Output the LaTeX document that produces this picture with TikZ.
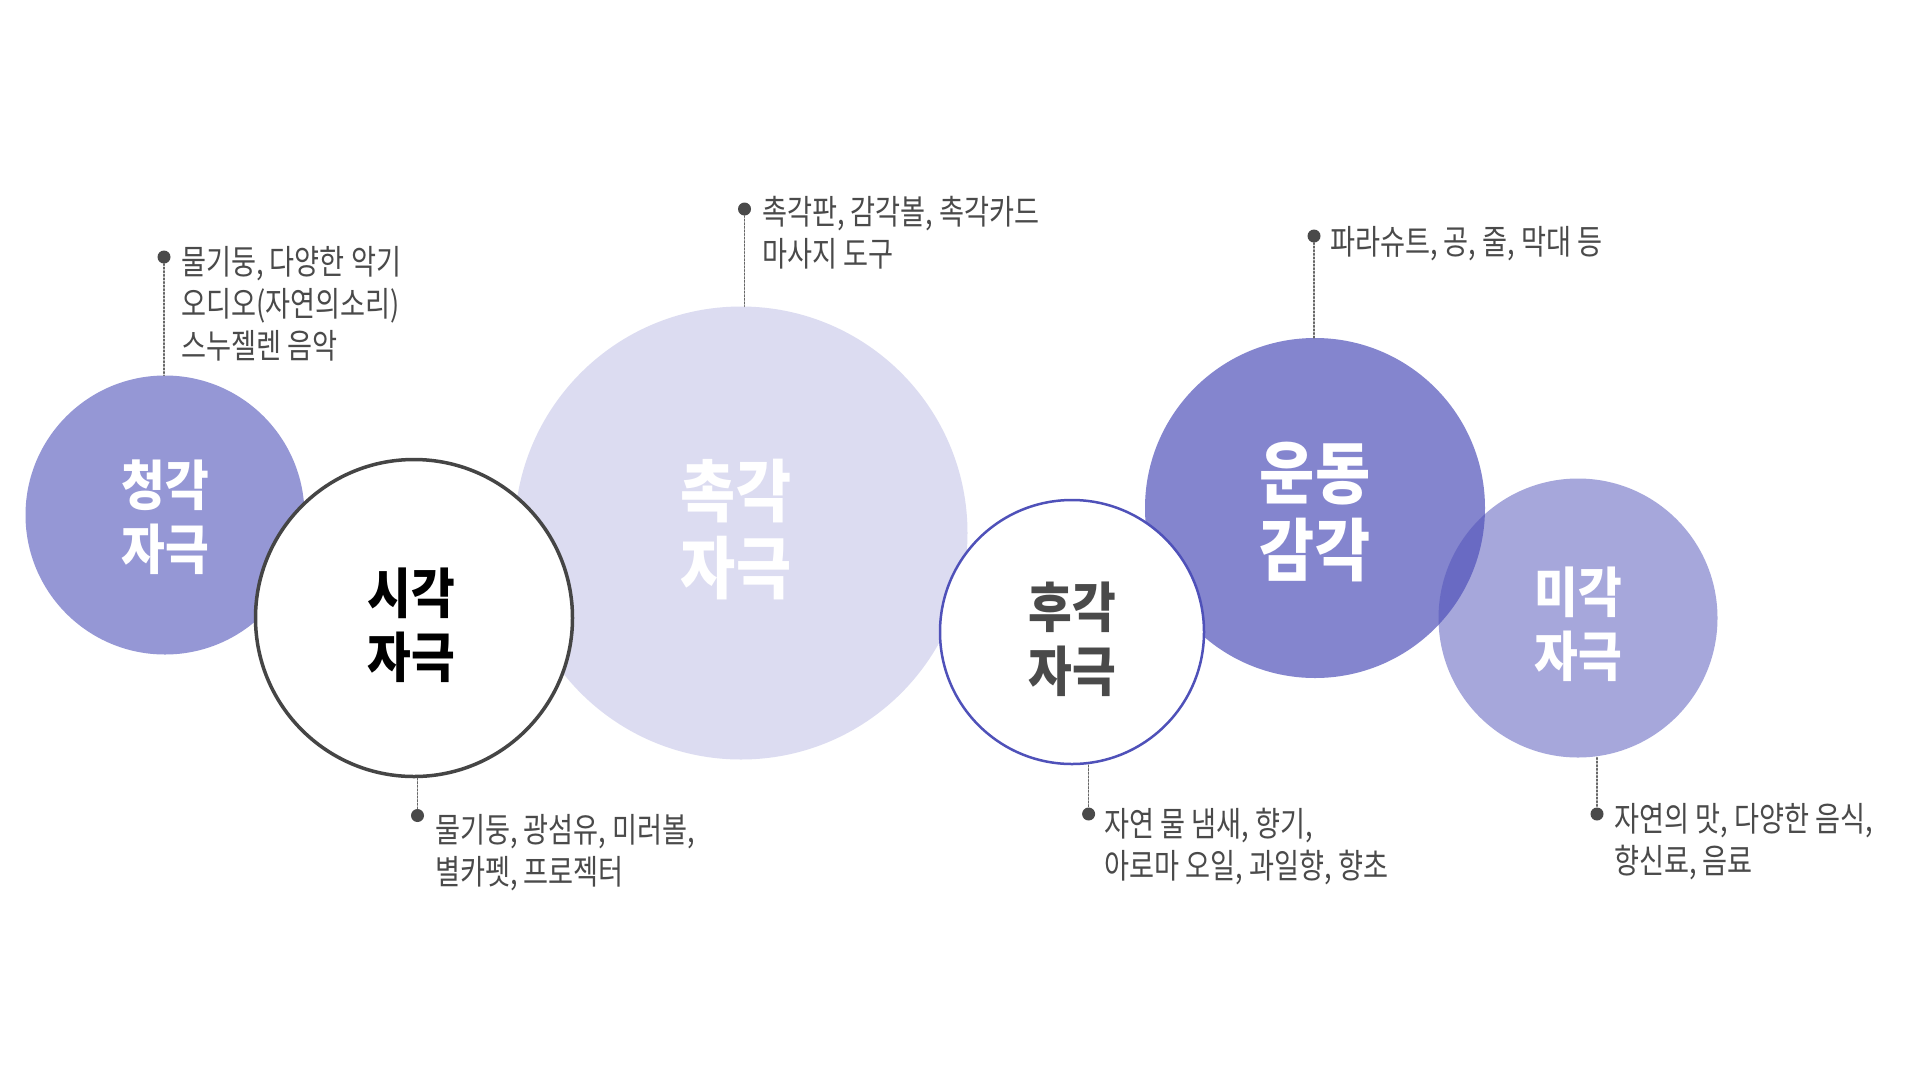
\documentclass[tikz,border=0pt]{standalone}
\usepackage{fontspec}
\newfontfamily\krnote[FakeStretch=0.8]{Noto Sans CJK KR}
\newfontfamily\krlabel[FakeStretch=0.88]{Noto Sans CJK KR}
\usepackage{tikz}
\usetikzlibrary{positioning}
\definecolor{senseblue}{HTML}{4F51B9}
\definecolor{notegray}{HTML}{4A4A4A}
\definecolor{ringgray}{HTML}{454545}
\tikzset{
	sense/.style={circle, inner sep=0pt},
	senselabel/.style={inner sep=0pt, align=center, font=\krlabel\bfseries\fontsize{54}{64}\selectfont},
	bigsenselabel/.style={senselabel, font=\krlabel\bfseries\fontsize{68}{77}\selectfont},
	pindot/.style={circle, fill=notegray, inner sep=0pt, minimum size=13pt},
	leader/.style={draw=gray!80!black, dotted, line width=1.6pt},
	note/.style={anchor=north west, inner sep=0pt, align=left, text=notegray, font=\krnote\fontsize{34}{42}\selectfont}
}

\begin{document}
\begin{tikzpicture}[line cap=round,line join=round,x=1pt,y=-1pt]
	\fill[white] (0,0) rectangle (1920,1080);
	\useasboundingbox (0,0) rectangle (1920,1080);
	\node[sense, minimum size=279pt, fill=senseblue!60] (hear) at (165,515) {};
	\node[sense, minimum size=453pt, fill=senseblue!20] (touch) at (741,533) {};
	\node[sense, minimum size=317pt, fill=white, draw=ringgray, line width=3.5pt] (sight) at (414,618) {};
	\node[sense, minimum size=340pt, fill=senseblue!70] (motor) at (1315,508) {};
	\node[sense, minimum size=264pt, fill=white, draw=senseblue, line width=2.5pt] (smell) at (1072,632) {};
	\node[sense, minimum size=279pt, fill=senseblue, fill opacity=0.5] (taste) at (1578,618) {};
	\node[senselabel, text=white] (hearlabel) at ([yshift=-2pt]hear.center) {청각\\자극};
	\node[bigsenselabel, text=white] (touchlabel) at ([xshift=-5pt,yshift=3pt]touch.center) {촉각\\자극};
	\node[senselabel, text=black] (sightlabel) at ([xshift=-3pt,yshift=-7pt]sight.center) {시각\\자극};
	\node[bigsenselabel, text=white] (motorlabel) at ([yshift=-4pt]motor.center) {운동\\감각};
	\node[senselabel, text=notegray] (smelllabel) at ([yshift=-7pt]smell.center) {후각\\자극};
	\node[senselabel, text=white] (tastelabel) at ([yshift=-6pt]taste.center) {미각\\자극};
	\node[pindot] (hdot) at (164,257) {};
	\node[pindot] (tdot) at (744.5,209) {};
	\node[pindot] (mdot) at (1314,236) {};
	\node[pindot] (sdot) at (417.5,815.5) {};
	\node[pindot] (odot) at (1088.6,814) {};
	\node[pindot] (gdot) at (1597,814) {};
	\draw[leader] (hdot) -- (hdot |- hear.north);
	\draw[leader] (tdot) -- (tdot |- touch.north);
	\draw[leader] (mdot) -- (mdot |- motor.north);
	\draw[leader] (sdot |- sight.south) -- (sdot);
	\draw[leader] (odot |- smell.south) -- (odot);
	\draw[leader] (gdot |- taste.south) -- (gdot);
	\node[note] (hnote) at (181,246.5) {물기둥, 다양한 악기\\오디오(자연의소리)\\스누젤렌 음악};
	\node[note] (tnote) at (762,196.5) {촉각판, 감각볼, 촉각카드\\마사지 도구};
	\node[note] (mnote) at (1330,226.5) {파라슈트, 공, 줄, 막대 등};
	\node[note] (snote) at (435,814.5) {물기둥, 광섬유, 미러볼,\\별카펫, 프로젝터};
	\node[note] (onote) at (1104.5,807.5) {자연 물 냄새, 향기,\\아로마 오일, 과일향, 향초};
	\node[note] (gnote) at (1614,803.5) {자연의 맛, 다양한 음식,\\향신료, 음료};
\end{tikzpicture}
\end{document}
